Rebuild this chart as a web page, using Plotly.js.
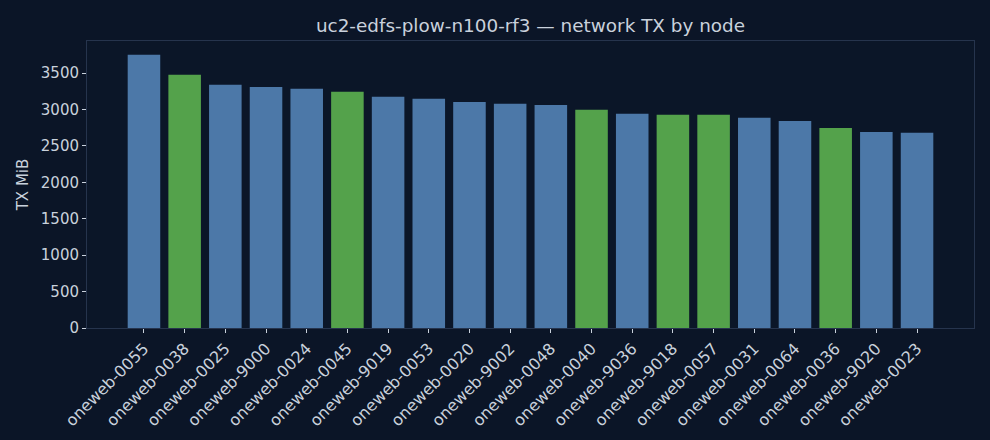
<!DOCTYPE html>
<html><head><meta charset="utf-8">
<script src="https://cdn.plot.ly/plotly-3.0.1.min.js"></script>
<style>html,body{margin:0;padding:0;background:#0b1527;}#chart{width:990px;height:440px;}</style>
</head><body><div id="chart"></div>
<script>
var nodes = ["oneweb-0055","oneweb-0038","oneweb-0025","oneweb-9000","oneweb-0024","oneweb-0045","oneweb-9019","oneweb-0053","oneweb-0020","oneweb-9002","oneweb-0048","oneweb-0040","oneweb-9036","oneweb-9018","oneweb-0057","oneweb-0031","oneweb-0064","oneweb-0036","oneweb-9020","oneweb-0023"];
var txMiB = [3750,3475,3338,3310,3283,3242,3173,3146,3104,3077,3063,2995,2940,2926,2926,2885,2843,2747,2692,2679];
var group = ["a","b","a","a","a","b","a","a","a","a","a","b","a","b","b","a","a","b","a","a"];
var groupColors = {a:"#4c78a8", b:"#54a24b"};
var textColor = "#c9d1dc";
var frameColor = "#26344d";

var trace = {
  type: "bar",
  x: nodes,
  y: txMiB,
  width: 0.8,
  marker: {color: group.map(function(g){return groupColors[g];})},
  hoverinfo: "x+y"
};
var layout = {
  width: 990, height: 440,
  paper_bgcolor: "#0b1527",
  plot_bgcolor: "#0b1628",
  margin: {l: 87, r: 16, t: 41, b: 112},
  font: {family: "DejaVu Sans", color: textColor, size: 15},
  title: {text: "uc2-edfs-plow-n100-rf3 — network TX by node", font: {size: 18.4, color: textColor}, xref: "paper", x: 0.5, xanchor: "center", yref: "container", y: 0.956, yanchor: "top"},
  showlegend: false,
  xaxis: {
    range: [-1.4, 20.4],
    tickangle: -45,
    ticks: "outside", ticklen: 4, tickcolor: textColor,
    showline: true, linecolor: frameColor, mirror: true,
    showgrid: false, zeroline: false,
    tickfont: {size: 16, color: textColor}
  },
  yaxis: {
    range: [0, 3940],
    title: {text: "TX MiB", font: {size: 15, color: textColor}, standoff: 8},
    tickvals: [0,500,1000,1500,2000,2500,3000,3500],
    ticks: "outside", ticklen: 4, tickcolor: textColor,
    showline: true, linecolor: frameColor, mirror: true,
    showgrid: false, zeroline: false,
    tickfont: {size: 15, color: textColor}
  }
};
Plotly.newPlot("chart", [trace], layout, {staticPlot: true, displayModeBar: false});
</script></body></html>
